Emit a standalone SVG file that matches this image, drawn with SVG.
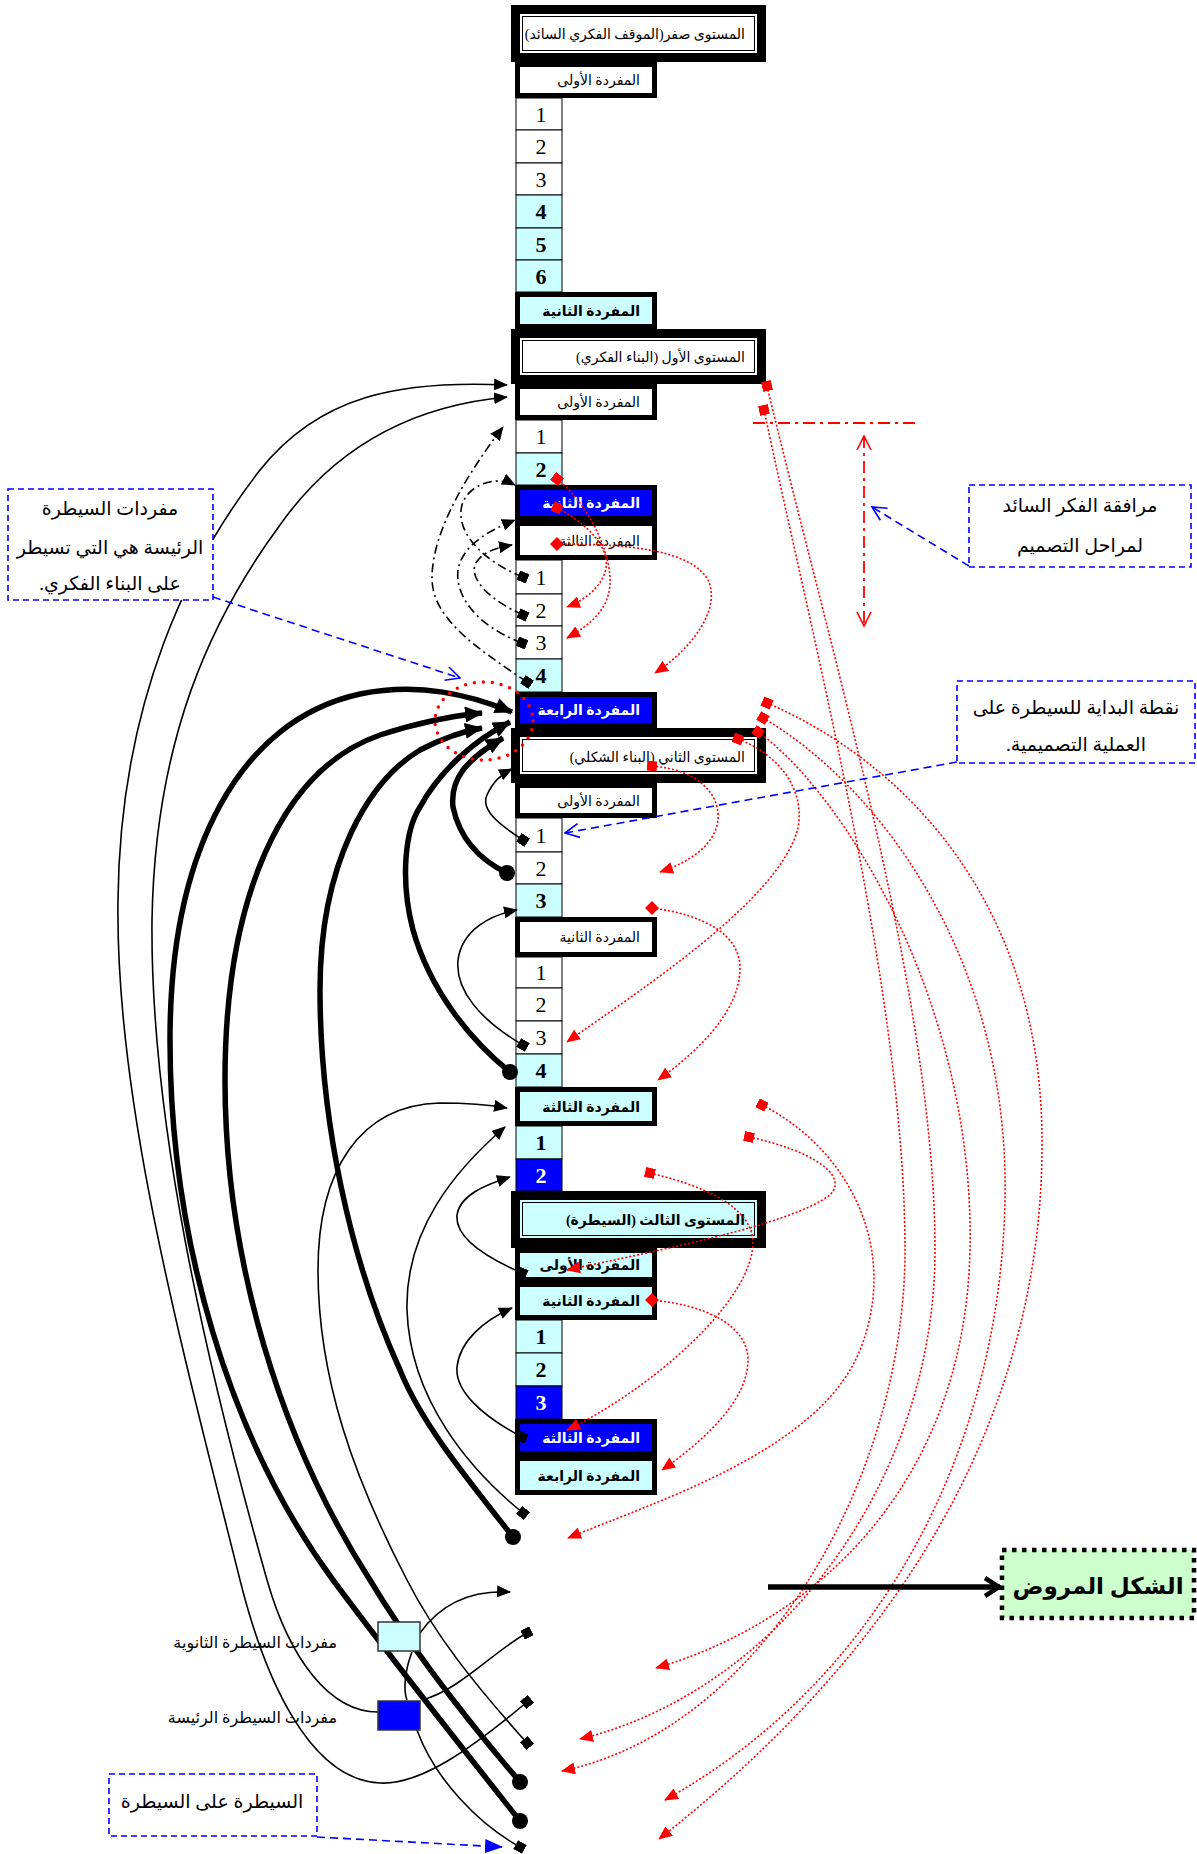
<svg xmlns="http://www.w3.org/2000/svg" width="1197" height="1854" viewBox="0 0 1197 1854">
<style>
text{font-family:"Liberation Serif","DejaVu Sans",serif;fill:#000}
.ar{direction:rtl}
.lvl{font-size:14px}
.itm{font-size:14px}
.b{font-weight:bold}
.wt{fill:#fff}
.dig{font-size:22px;text-anchor:middle}
.ann{font-size:19px;text-anchor:middle}
.cellw{fill:#fff;stroke:#000;stroke-width:1}
.cellc{fill:#CCFFFF;stroke:#000;stroke-width:1}
.cellb{fill:#0000FF;stroke:#000;stroke-width:1}
.bx{stroke:#000;stroke-width:5}
.fw{fill:#fff}.fc{fill:#CCFFFF}.fb{fill:#0000FF}
.fr{fill:#000}
.fin{stroke:#000;stroke-width:1}
.thin{fill:none;stroke:#000;stroke-width:1.6}
.thick{fill:none;stroke:#000;stroke-width:5.5}
.dd{fill:none;stroke:#000;stroke-width:1.6;stroke-dasharray:9 4 2 4}
.rd{fill:none;stroke:#FF0000;stroke-width:1.6;stroke-dasharray:2 2}
.bd{fill:none;stroke:#0000FF;stroke-width:1.6;stroke-dasharray:8 5}
.bbox{fill:#fff;stroke:#0000FF;stroke-width:1.6;stroke-dasharray:6 4}
</style>
<defs>
<marker id="ah" viewBox="0 0 14 12" refX="13" refY="6" markerWidth="14" markerHeight="12" markerUnits="userSpaceOnUse" orient="auto"><path d="M0,0 L14,6 L0,12 Z"/></marker>
<marker id="aht" viewBox="0 0 18 16" refX="17" refY="8" markerWidth="18" markerHeight="16" markerUnits="userSpaceOnUse" orient="auto"><path d="M0,0 L18,8 L0,16 Z"/></marker>
<marker id="sq" viewBox="0 0 10 10" refX="5" refY="5" markerWidth="10" markerHeight="10" markerUnits="userSpaceOnUse" orient="auto"><rect width="10" height="10"/></marker>
<marker id="ci" viewBox="0 0 16 16" refX="8" refY="8" markerWidth="16" markerHeight="16" markerUnits="userSpaceOnUse"><circle cx="8" cy="8" r="8"/></marker>
<marker id="ra" viewBox="0 0 14 12" refX="13" refY="6" markerWidth="14" markerHeight="12" markerUnits="userSpaceOnUse" orient="auto"><path d="M0,0 L14,6 L0,12 Z" fill="#FF0000"/></marker>
<marker id="rs" viewBox="0 0 10 10" refX="5" refY="5" markerWidth="10" markerHeight="10" markerUnits="userSpaceOnUse" orient="auto"><rect width="10" height="10" fill="#FF0000"/></marker>
<marker id="rdm" viewBox="0 0 14 14" refX="7" refY="7" markerWidth="14" markerHeight="14" markerUnits="userSpaceOnUse"><path d="M7,0 L14,7 L7,14 L0,7 Z" fill="#FF0000"/></marker>
<marker id="bv" viewBox="0 0 16 16" refX="15" refY="8" markerWidth="16" markerHeight="16" markerUnits="userSpaceOnUse" orient="auto"><path d="M1,1 L15,8 L1,15" fill="none" stroke="#0000FF" stroke-width="1.6"/></marker>
<marker id="bf" viewBox="0 0 18 14" refX="17" refY="7" markerWidth="18" markerHeight="14" markerUnits="userSpaceOnUse" orient="auto"><path d="M0,0 L18,7 L0,14 Z" fill="#0000FF"/></marker>
<marker id="rv" viewBox="0 0 16 16" refX="15" refY="8" markerWidth="16" markerHeight="16" markerUnits="userSpaceOnUse" orient="auto-start-reverse"><path d="M1,1 L15,8 L1,15" fill="none" stroke="#FF0000" stroke-width="1.6"/></marker>
<marker id="kv" viewBox="0 0 20 24" refX="18" refY="12" markerWidth="20" markerHeight="24" markerUnits="userSpaceOnUse" orient="auto"><path d="M3,3 L17,12 L3,21" fill="none" stroke="#000" stroke-width="4.5"/></marker>
</defs>

<!-- cell column -->
<g id="cells">
<rect class="cellw" x="516" y="98" width="46" height="32"/><text class="dig" x="541" y="122">1</text>
<rect class="cellw" x="516" y="130" width="46" height="33"/><text class="dig" x="541" y="154">2</text>
<rect class="cellw" x="516" y="163" width="46" height="32"/><text class="dig" x="541" y="187">3</text>
<rect class="cellc" x="516" y="195" width="46" height="33"/><text class="dig b" x="541" y="219">4</text>
<rect class="cellc" x="516" y="228" width="46" height="32"/><text class="dig b" x="541" y="252">5</text>
<rect class="cellc" x="516" y="260" width="46" height="32"/><text class="dig b" x="541" y="284">6</text>

<rect class="cellw" x="516" y="420" width="46" height="33"/><text class="dig" x="541" y="444">1</text>
<rect class="cellc" x="516" y="453" width="46" height="32"/><text class="dig b" x="541" y="477">2</text>
<rect class="cellw" x="516" y="560" width="46" height="34"/><text class="dig" x="541" y="585">1</text>
<rect class="cellw" x="516" y="594" width="46" height="32"/><text class="dig" x="541" y="618">2</text>
<rect class="cellw" x="516" y="626" width="46" height="33"/><text class="dig" x="541" y="650">3</text>
<rect class="cellc" x="516" y="659" width="46" height="33"/><text class="dig b" x="541" y="683">4</text>

<rect class="cellw" x="516" y="818" width="46" height="34"/><text class="dig" x="541" y="843">1</text>
<rect class="cellw" x="516" y="852" width="46" height="32"/><text class="dig" x="541" y="876">2</text>
<rect class="cellc" x="516" y="884" width="46" height="33"/><text class="dig b" x="541" y="908">3</text>
<rect class="cellw" x="516" y="957" width="46" height="31"/><text class="dig" x="541" y="980">1</text>
<rect class="cellw" x="516" y="988" width="46" height="33"/><text class="dig" x="541" y="1012">2</text>
<rect class="cellw" x="516" y="1021" width="46" height="33"/><text class="dig" x="541" y="1045">3</text>
<rect class="cellc" x="516" y="1054" width="46" height="33"/><text class="dig b" x="541" y="1078">4</text>
<rect class="cellc" x="516" y="1126" width="46" height="33"/><text class="dig b" x="541" y="1150">1</text>
<rect class="cellb" x="516" y="1159" width="46" height="32"/><text class="dig b wt" x="541" y="1183">2</text>

<rect class="cellc" x="516" y="1320" width="46" height="33"/><text class="dig b" x="541" y="1344">1</text>
<rect class="cellc" x="516" y="1353" width="46" height="33"/><text class="dig b" x="541" y="1377">2</text>
<rect class="cellb" x="516" y="1386" width="46" height="33"/><text class="dig b wt" x="541" y="1410">3</text>
</g>

<!-- level frames -->
<g id="level0">
<rect class="fr" x="511" y="5" width="255" height="57"/>
<rect class="fw" x="520" y="14" width="237" height="39"/>
<rect class="fw fin" x="522.5" y="16.5" width="232" height="34"/>
<text class="lvl ar" x="745" y="39">المستوى صفر(الموقف الفكري السائد)</text>
</g>
<g id="level1">
<rect class="fr" x="511" y="329" width="255" height="55"/>
<rect class="fw" x="520" y="338" width="237" height="37"/>
<rect class="fw fin" x="522.5" y="340.5" width="232" height="32"/>
<text class="lvl ar" x="745" y="362">المستوى الأول (البناء الفكري)</text>
</g>
<g id="level2">
<rect class="fr" x="511" y="728" width="255" height="55"/>
<rect class="fw" x="520" y="737" width="237" height="37"/>
<rect class="fw fin" x="522.5" y="739.5" width="232" height="32"/>
<text class="lvl ar" x="745" y="762">المستوى الثاني (البناء الشكلي)</text>
</g>
<g id="level3">
<rect class="fr" x="511" y="1191" width="255" height="57"/>
<rect class="fc" x="520" y="1200" width="237" height="38"/>
<rect class="fc fin" x="522.5" y="1202.5" width="232" height="33"/>
<text class="lvl ar b" x="745" y="1225">المستوى الثالث (السيطرة)</text>
</g>

<!-- item boxes -->
<g id="l0-item1"><rect class="bx fw" x="517.5" y="64.5" width="137" height="31"/><text class="itm ar" x="640" y="85">المفردة الأولى</text></g>
<g id="l0-item2"><rect class="bx fc" x="517.5" y="294.5" width="137" height="32"/><text class="itm ar b" x="640" y="316">المفردة الثانية</text></g>
<g id="l1-item1"><rect class="bx fw" x="517.5" y="386.5" width="137" height="31"/><text class="itm ar" x="640" y="407">المفردة الأولى</text></g>
<g id="l1-item2"><rect class="bx fb" x="517.5" y="487.5" width="137" height="31"/><text class="itm ar b wt" x="640" y="508">المفردة الثانية</text></g>
<g id="l1-item3"><rect class="bx fw" x="517.5" y="523.5" width="137" height="34"/><text class="itm ar" x="640" y="546">المفردة الثالثة</text></g>
<g id="l1-item4"><rect class="bx fb" x="517.5" y="694.5" width="137" height="31"/><text class="itm ar b wt" x="640" y="715">المفردة الرابعة</text></g>
<g id="l2-item1"><rect class="bx fw" x="517.5" y="785.5" width="137" height="30"/><text class="itm ar" x="640" y="806">المفردة الأولى</text></g>
<g id="l2-item2"><rect class="bx fw" x="517.5" y="919.5" width="137" height="35"/><text class="itm ar" x="640" y="942">المفردة الثانية</text></g>
<g id="l2-item3"><rect class="bx fc" x="517.5" y="1089.5" width="137" height="34"/><text class="itm ar b" x="640" y="1112">المفردة الثالثة</text></g>
<g id="l3-item1"><rect class="bx fc" x="517.5" y="1250.5" width="137" height="29"/><text class="itm ar b" x="640" y="1270">المفردة الأولى</text></g>
<g id="l3-item2"><rect class="bx fc" x="517.5" y="1284.5" width="137" height="33"/><text class="itm ar b" x="640" y="1306">المفردة الثانية</text></g>
<g id="l3-item3"><rect class="bx fb" x="517.5" y="1421.5" width="137" height="32"/><text class="itm ar b wt" x="640" y="1443">المفردة الثالثة</text></g>
<g id="l3-item4"><rect class="bx fc" x="517.5" y="1458.5" width="137" height="34"/><text class="itm ar b" x="640" y="1481">المفردة الرابعة</text></g>

<!-- connectors -->
<g id="connectors">
<path class="thin" marker-start="url(#sq)" marker-end="url(#ah)" d="M527,1702 C470,1750 420,1785 380,1783 C310,1780 265,1680 240,1580 C180,1340 115,1100 118,900 C120,700 190,560 260,470 C320,395 400,380 507,385"/>
<path class="thin" marker-end="url(#ah)" d="M378,1712 C330,1712 290,1660 267,1580 C205,1360 150,1120 152,920 C155,740 210,620 280,525 C340,440 420,405 507,397"/>
<path class="thin" marker-start="url(#sq)" marker-end="url(#ah)" d="M527,1743 C475,1685 435,1635 407,1580 C355,1480 318,1380 318,1270 C318,1170 360,1105 440,1103 C470,1103 490,1105 507,1108"/>
<path class="thin" marker-start="url(#sq)" marker-end="url(#ah)" d="M523,1513 C470,1470 410,1400 407,1310 C405,1230 455,1170 505,1127"/>
<path class="thin" marker-start="url(#sq)" marker-end="url(#ah)" d="M522,1273 C480,1255 455,1235 457,1215 C460,1195 485,1185 510,1177"/>
<path class="thin" marker-start="url(#sq)" marker-end="url(#ah)" d="M522,1437 C480,1415 455,1390 457,1367 C460,1340 485,1320 512,1308"/>
<path class="thin" marker-start="url(#sq)" marker-end="url(#ah)" d="M523,1045 C480,1020 455,990 458,960 C462,930 490,915 517,910"/>
<path class="thin" marker-start="url(#sq)" marker-end="url(#ah)" d="M523,840 C500,825 480,810 487,795 C493,782 500,775 512,769"/>
<path class="thin" marker-end="url(#ah)" d="M420,1633 C440,1605 470,1590 510,1592"/>
<path class="thin" marker-end="url(#sq)" d="M422,1700 C460,1690 495,1650 527,1633"/>
<path class="thin" d="M412,1652 C405,1670 403,1690 407,1700"/>
<path class="thin" marker-end="url(#sq)" d="M417,1730 C435,1780 480,1825 520,1847"/>
<path class="dd" marker-start="url(#sq)" marker-end="url(#ah)" d="M527,682 C480,650 432,620 432,578 C432,530 470,470 503,427"/>
<path class="dd" marker-start="url(#sq)" marker-end="url(#ah)" d="M523,577 C480,560 455,530 462,505 C468,485 495,475 515,485"/>
<path class="dd" marker-start="url(#sq)" marker-end="url(#ah)" d="M522,643 C475,625 455,595 458,570 C462,545 490,530 515,520"/>
<path class="dd" marker-start="url(#sq)" marker-end="url(#ah)" d="M523,615 C490,600 470,580 475,565 C480,553 495,548 512,545"/>
<path class="thick" marker-start="url(#ci)" marker-end="url(#aht)" d="M520,1821 C440,1720 370,1630 333,1580 C230,1440 170,1240 170,1040 C170,850 240,720 360,694 C420,682 470,695 512,712"/>
<path class="thick" marker-start="url(#ci)" marker-end="url(#aht)" d="M520,1782 C450,1700 400,1630 370,1580 C280,1440 225,1260 225,1080 C225,900 280,770 380,735 C420,722 450,716 482,713"/>
<path class="thick" marker-start="url(#ci)" marker-end="url(#aht)" d="M513,1537 C460,1470 420,1420 400,1370 C350,1260 320,1120 320,990 C320,860 370,780 420,750 C445,737 465,731 482,728"/>
<path class="thick" marker-start="url(#ci)" marker-end="url(#aht)" d="M510,1072 C470,1040 430,990 413,930 C400,880 405,830 420,807 C440,770 475,740 510,722"/>
<path class="thick" marker-start="url(#ci)" marker-end="url(#aht)" d="M507,873 C480,860 460,840 453,807 C450,780 465,760 503,738"/>
<path class="rd" marker-start="url(#rs)" marker-end="url(#ra)" d="M557,479 C590,505 612,555 610,585 C608,610 590,625 567,638"/>
<path class="rd" marker-start="url(#rs)" marker-end="url(#ra)" d="M557,508 C590,525 612,550 605,572 C600,588 585,600 567,607"/>
<path class="rd" marker-start="url(#rdm)" marker-end="url(#ra)" d="M557,544 C620,544 690,548 708,580 C722,610 690,650 655,673"/>
<path class="rd" marker-start="url(#rs)" marker-end="url(#ra)" d="M738,739 C780,755 805,790 798,828 C780,900 640,990 567,1042"/>
<path class="rd" marker-start="url(#rs)" marker-end="url(#ra)" d="M652,766 C700,770 720,795 718,820 C715,845 690,862 660,872"/>
<path class="rd" marker-start="url(#rdm)" marker-end="url(#ra)" d="M652,908 C705,915 740,935 740,968 C740,1010 700,1050 658,1080"/>
<path class="rd" marker-start="url(#rdm)" marker-end="url(#ra)" d="M652,1300 C705,1305 748,1325 748,1360 C748,1400 705,1440 662,1470"/>
<path class="rd" marker-start="url(#rs)" marker-end="url(#ra)" d="M762,1105 C850,1150 900,1250 860,1350 C820,1450 660,1500 568,1538"/>
<path class="rd" marker-start="url(#rs)" marker-end="url(#ra)" d="M749,1137 C810,1150 850,1175 830,1195 C790,1225 660,1250 567,1270"/>
<path class="rd" marker-start="url(#rs)" marker-end="url(#ra)" d="M650,1173 C700,1185 750,1205 753,1240 C755,1300 650,1390 567,1430"/>
<path class="rd" marker-start="url(#rs)" marker-end="url(#ra)" d="M767,386 C830,650 935,1000 935,1250 C935,1480 780,1690 580,1739"/>
<path class="rd" marker-start="url(#rs)" marker-end="url(#ra)" d="M764,410 C815,650 905,1000 905,1250 C905,1480 760,1730 562,1771"/>
<path class="rd" marker-start="url(#rs)" marker-end="url(#ra)" d="M767,703 C900,760 1045,900 1042,1150 C1040,1420 900,1650 659,1839"/>
<path class="rd" marker-start="url(#rs)" marker-end="url(#ra)" d="M763,718 C870,780 1010,950 1005,1200 C1000,1450 880,1680 665,1800"/>
<path class="rd" marker-start="url(#rs)" marker-end="url(#ra)" d="M758,732 C840,790 975,1000 970,1250 C965,1480 820,1620 656,1668"/>
<ellipse cx="484" cy="721" rx="49" ry="39" fill="none" stroke="#FF0000" stroke-width="3.5" stroke-dasharray="0 9" stroke-linecap="round"/>
<path d="M753,423 H918" fill="none" stroke="#FF0000" stroke-width="1.8" stroke-dasharray="12 5 3 5"/>
<path d="M864,436 V626" fill="none" stroke="#FF0000" stroke-width="1.8" stroke-dasharray="12 5 3 5" marker-start="url(#rv)" marker-end="url(#rv)"/>
<path class="bd" marker-end="url(#bv)" d="M213,597 L460,678"/>
<path class="bd" marker-end="url(#bv)" d="M969,566 L872,507"/>
<path class="bd" marker-end="url(#bv)" d="M957,762 L565,833"/>
<path class="bd" marker-end="url(#bf)" d="M317,1837 L502,1847"/>
<path d="M768,1587 H1000" fill="none" stroke="#000" stroke-width="5.5" marker-end="url(#kv)"/>
</g>

<g id="legend-secondary"><rect x="378" y="1622" width="42" height="29" fill="#CCFFFF" stroke="#333" stroke-width="1.5"/><text class="ar" x="337" y="1648" style="font-size:16px">مفردات السيطرة الثانوية</text></g>
<g id="legend-primary"><rect x="378" y="1701" width="42" height="29" fill="#0000FF" stroke="#333" stroke-width="1.5"/><text class="ar" x="337" y="1723" style="font-size:16px">مفردات السيطرة الرئيسة</text></g>

<g id="note-left"><rect class="bbox" x="8" y="489" width="205" height="111"/>
<text class="ann ar" x="110" y="515">مفردات السيطرة</text>
<text class="ann ar" x="110" y="554">الرئيسة هي التي تسيطر</text>
<text class="ann ar" x="110" y="590">على البناء الفكري.</text></g>
<g id="note-right1"><rect class="bbox" x="969" y="485" width="222" height="82"/>
<text class="ann ar" x="1080" y="512">مرافقة الفكر السائد</text>
<text class="ann ar" x="1080" y="552">لمراحل التصميم</text></g>
<g id="note-right2"><rect class="bbox" x="957" y="681" width="238" height="82"/>
<text class="ann ar" x="1076" y="714">نقطة البداية للسيطرة على</text>
<text class="ann ar" x="1076" y="751">العملية التصميمية.</text></g>
<g id="note-bottom"><rect class="bbox" x="109" y="1774" width="208" height="62"/>
<text class="ann ar" x="212" y="1808">السيطرة على السيطرة</text></g>
<g id="result"><rect x="1002" y="1550" width="192" height="68" fill="#CCFFCC" stroke="#000" stroke-width="4.5" stroke-dasharray="4.5 5.5"/>
<text class="ar b" x="1098" y="1594" style="font-size:23px;text-anchor:middle">الشكل المروض</text></g>
</svg>
